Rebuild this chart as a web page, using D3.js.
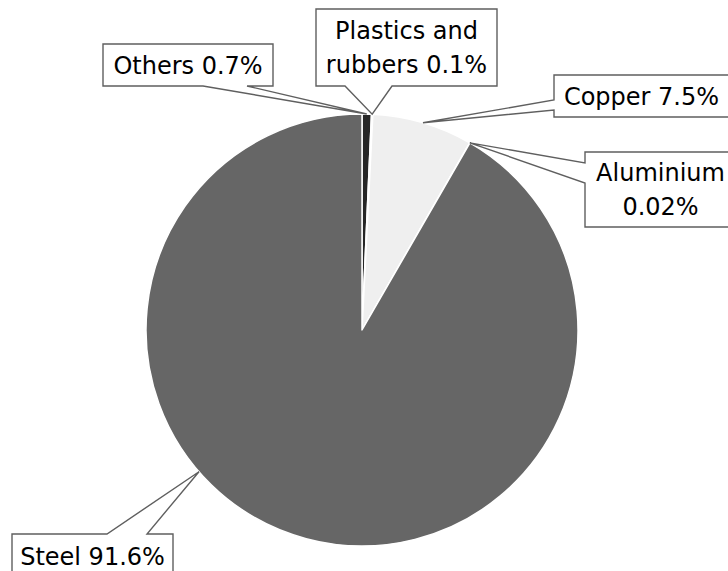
<!DOCTYPE html>
<html>
<head>
<meta charset="utf-8">
<script src="https://cdn.jsdelivr.net/npm/d3@7"></script>
<style>
  html,body{margin:0;padding:0;background:#fff;}
  svg{display:block;}
</style>
</head>
<body>
<div id="chart"></div>
<script>
// data
const materials = ["Others", "Plastics and rubbers", "Copper", "Aluminium", "Steel"];
const shares = [0.7, 0.1, 7.5, 0.02, 91.6];
const shareLabels = ["0.7%", "0.1%", "7.5%", "0.02%", "91.6%"];
const sliceColors = ["#262626", "#a6a6a6", "#efefef", "#bfbfbf", "#666666"];

// callout boxes (layout only)
const callouts = [
  {box:[103,44,170,42], side:"bottom", tail:[203,247], lines:["Others 0.7%"]},
  {box:[316,9,181,77], side:"bottom", tail:[345,392], lines:["Plastics and","rubbers 0.1%"]},
  {box:[554,75,175,42], side:"left", tail:[100,110], lines:["Copper 7.5%"]},
  {box:[585,152,151,75], side:"left", tail:[163,183], lines:["Aluminium","0.02%"]},
  {box:[12,534,161,44], side:"top", tail:[107,147], lines:["Steel 91.6%"], tipAngle:229}
];

const width = 728, height = 571;
const cx = 362, cy = 330, radius = 216;

const svg = d3.select("#chart").append("svg")
  .attr("width", width).attr("height", height);

const pie = d3.pie().sort(null).value(d => d.v);
const arcs = pie(materials.map((m,i) => ({name:m, v:shares[i], i:i})));
const arc = d3.arc().innerRadius(0).outerRadius(radius);

const g = svg.append("g").attr("transform", `translate(${cx},${cy})`);
g.selectAll("path")
  .data(arcs)
  .enter().append("path")
  .attr("d", arc)
  .style("fill", d => sliceColors[d.data.i])
  .style("stroke", "#fff")
  .style("stroke-width", 1.5)
  .style("stroke-linejoin", "round");

// tip point on the pie edge
const tipOf = (d, c) => {
  let a = c.tipAngle != null ? c.tipAngle*Math.PI/180 : (d.startAngle + d.endAngle)/2;
  return [cx + radius*Math.sin(a), cy - radius*Math.cos(a)];
};

const calloutPath = (c, tip) => {
  const [x,y,w,h] = c.box;
  const p = d3.path();
  p.moveTo(x, y);
  if (c.side === "top") { p.lineTo(c.tail[0], y); p.lineTo(tip[0], tip[1]); p.lineTo(c.tail[1], y); }
  p.lineTo(x+w, y);
  p.lineTo(x+w, y+h);
  if (c.side === "bottom") { p.lineTo(c.tail[1], y+h); p.lineTo(tip[0], tip[1]); p.lineTo(c.tail[0], y+h); }
  p.lineTo(x, y+h);
  if (c.side === "left") { p.lineTo(x, c.tail[1]); p.lineTo(tip[0], tip[1]); p.lineTo(x, c.tail[0]); }
  p.closePath();
  return p.toString();
};

const lab = svg.append("g");
callouts.forEach((c, i) => {
  const tip = tipOf(arcs[i], c);
  lab.append("path")
    .attr("d", calloutPath(c, tip))
    .style("fill", "#fff")
    .style("stroke", "#5f5f5f")
    .style("stroke-width", 1.4)
    .style("stroke-linejoin", "miter");
  const [x,y,w,h] = c.box;
  const mid = y + h/2;
  const n = c.lines.length;
  c.lines.forEach((t, k) => {
    lab.append("text")
      .attr("x", x + w/2)
      .attr("y", mid + (k - (n-1)/2)*34 + 8.5)
      .attr("text-anchor", "middle")
      .style("font-family", "DejaVu Sans, sans-serif")
      .style("font-size", "24px")
      .style("fill", "#000")
      .text(t);
  });
});
</script>
</body>
</html>
